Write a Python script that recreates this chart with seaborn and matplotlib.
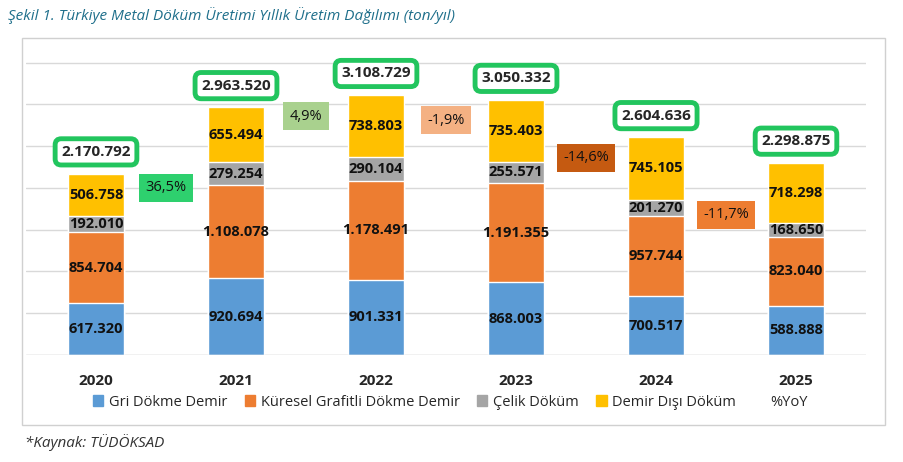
import matplotlib
matplotlib.use('Agg')
import matplotlib.pyplot as plt
from matplotlib.patches import Rectangle, Patch
import seaborn as sns
import pandas as pd
import numpy as np

years = ['2020', '2021', '2022', '2023', '2024', '2025']
gri = [617320, 920694, 901331, 868003, 700517, 588888]
kuresel = [854704, 1108078, 1178491, 1191355, 957744, 823040]
celik = [192010, 279254, 290104, 255571, 201270, 168650]
demir_disi = [506758, 655494, 738803, 735403, 745105, 718298]
totals = [2170792, 2963520, 3108729, 3050332, 2604636, 2298875]
yoy = ['36,5%', '4,9%', '-1,9%', '-14,6%', '-11,7%']
yoy_y = [2.0e6, 2.86e6, 2.81e6, 2.36e6, 1.68e6]
yoy_colors = ['#2ed06e', '#a9d18e', '#f4b183', '#c55a11', '#ed7d31']

names = ['Gri Dökme Demir', 'Küresel Grafitli Dökme Demir', 'Çelik Döküm', 'Demir Dışı Döküm']
colors = ['#5b9bd5', '#ed7d31', '#a5a5a5', '#ffc000']
series = [gri, kuresel, celik, demir_disi]

sns.set_style('white')
plt.rcParams['font.family'] = ['Open Sans', 'DejaVu Sans']


def fmt(v):
    return f'{v:,}'.replace(',', '.')


fig = plt.figure(figsize=(9.04, 4.62), dpi=100)
fig.patches.append(Rectangle((22 / 904, 1 - 425 / 462), 863 / 904, 387 / 462, transform=fig.transFigure,
                             fill=False, edgecolor='#d0d0d0', lw=1))
ax = fig.add_axes([26 / 904, 1 - 355 / 462, 840 / 904, 300 / 462])

cum = np.cumsum(np.array(series), axis=0)
df = pd.DataFrame({'year': years})
for i in range(3, -1, -1):
    df['h'] = cum[i]
    sns.barplot(data=df, x='year', y='h', color=colors[i], width=0.4, saturation=1, ax=ax, zorder=2)

for j in range(len(years)):
    for i in range(4):
        mid = cum[i][j] - series[i][j] / 2
        ax.text(j, mid, fmt(series[i][j]), ha='center', va='center', fontsize=10.5,
                fontweight='bold', color='#111111', zorder=3)
    ax.text(j, totals[j] + 0.26e6, fmt(totals[j]), ha='center', va='center', fontsize=11,
            fontweight='bold', zorder=4,
            bbox=dict(boxstyle='round,pad=0.4', fc='white', ec='#22c55e', lw=3.5))
for j, t in enumerate(yoy):
    ax.text(j + 0.5, yoy_y[j], t, ha='center', va='center', fontsize=10.5, color='#111111', zorder=4,
            bbox=dict(boxstyle='square,pad=0.45', fc=yoy_colors[j], ec='none'))

ax.set_ylim(0, 3.59e6)
ax.set_xlim(-0.5, 5.5)
ax.set_yticks(np.arange(0, 3.6e6, 0.5e6))
ax.yaxis.grid(True, color='#d9d9d9', lw=1)
ax.set_axisbelow(True)
ax.set_yticklabels([])
ax.tick_params(left=False, bottom=False)
ax.set_xlabel('')
ax.set_ylabel('')
ax.tick_params(axis='x', labelsize=11, pad=10)
for lab in ax.get_xticklabels():
    lab.set_fontweight('bold')
sns.despine(ax=ax, left=True, bottom=True)
ax.axhline(0, color='#d9d9d9', lw=1)

handles = [Patch(color=c, label=n) for c, n in zip(colors, names)]
handles.append(Patch(color='none', label='%YoY'))
fig.legend(handles=handles, loc='center', bbox_to_anchor=(450 / 904, 1 - 402 / 462), ncol=5,
           frameon=False, fontsize=10.5, handlelength=0.7, handleheight=0.7, columnspacing=1.2,
           handletextpad=0.4)

fig.text(8 / 904, 1 - 16 / 462, 'Şekil 1. Türkiye Metal Döküm Üretimi Yıllık Üretim Dağılımı (ton/yıl)',
         fontsize=11, style='italic', color='#1f6f8b', va='center')
fig.text(25 / 904, 1 - 443 / 462, '*Kaynak: TÜDÖKSAD', fontsize=11, style='italic', color='#333333',
         va='center')

fig.savefig('out.png', dpi=100)
